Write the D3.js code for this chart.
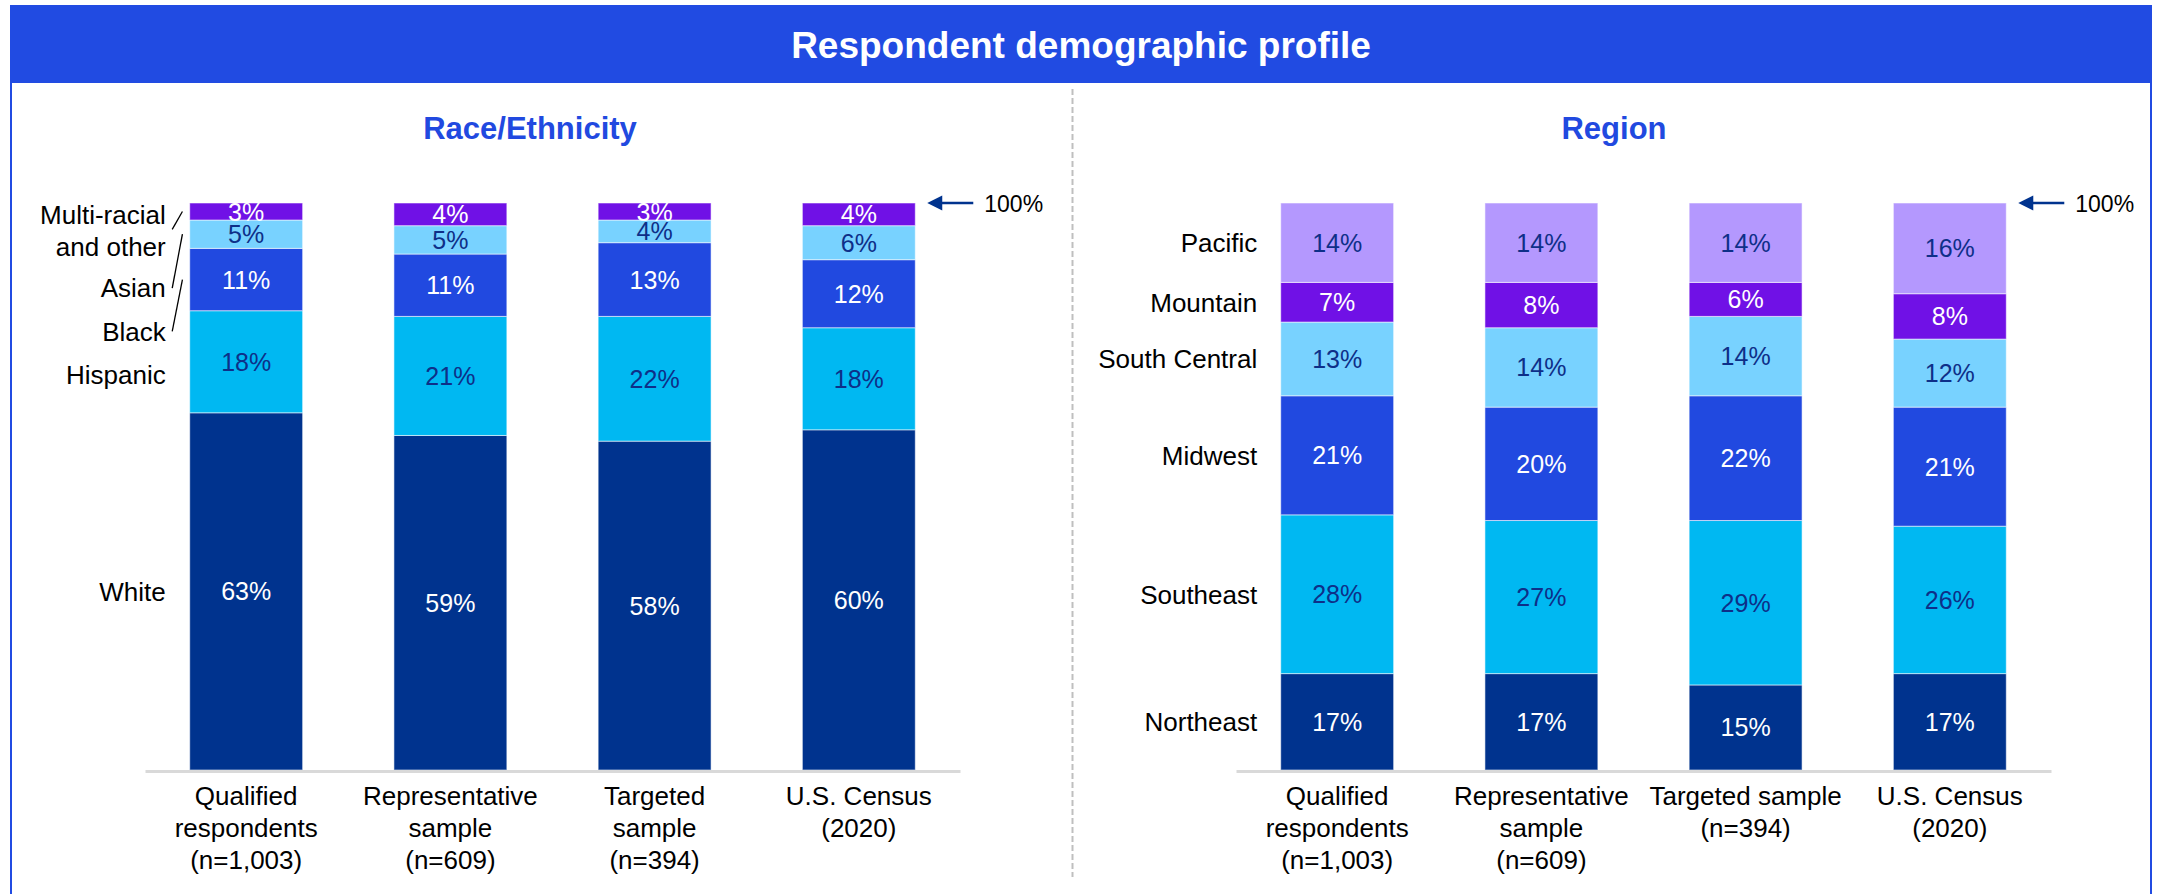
<!DOCTYPE html>
<html>
<head>
<meta charset="utf-8">
<script src="https://cdn.jsdelivr.net/npm/d3@7"></script>
<style>
  html, body { margin: 0; padding: 0; background: #fff; }
  svg { display: block; font-family: "Liberation Sans", Arial, sans-serif; }
</style>
</head>
<body>
<svg id="chart" width="2158" height="894"></svg>
<script>
// ---------------- DATA ----------------
const mainTitle = "Respondent demographic profile";
const raceTitle = "Race/Ethnicity";
const regionTitle = "Region";

const groups = ["Qualified respondents (n=1,003)", "Representative sample (n=609)", "Targeted sample (n=394)", "U.S. Census (2020)"];
const raceGroupLines = [["Qualified", "respondents", "(n=1,003)"], ["Representative", "sample", "(n=609)"], ["Targeted", "sample", "(n=394)"], ["U.S. Census", "(2020)"]];
const regionGroupLines = [["Qualified", "respondents", "(n=1,003)"], ["Representative", "sample", "(n=609)"], ["Targeted sample", "(n=394)"], ["U.S. Census", "(2020)"]];

// Race/Ethnicity (bottom to top)
const raceSeries = ["White", "Hispanic", "Black", "Asian", "Multi-racial and other"];
const raceWhite    = [63, 59, 58, 60];
const raceHispanic = [18, 21, 22, 18];
const raceBlack    = [11, 11, 13, 12];
const raceAsian    = [5, 5, 4, 6];
const raceMulti    = [3, 4, 3, 4];

// Region (bottom to top)
const regionSeries = ["Northeast", "Southeast", "Midwest", "South Central", "Mountain", "Pacific"];
const regNortheast    = [17, 17, 15, 17];
const regSoutheast    = [28, 27, 29, 26];
const regMidwest      = [21, 20, 22, 21];
const regSouthCentral = [13, 14, 14, 12];
const regMountain     = [7, 8, 6, 8];
const regPacific      = [14, 14, 14, 16];

const totalLabel = "100%";

// ---------------- STYLE ----------------
const C = {
  navy: "#00338e", cyan: "#00b8f2", blue: "#2149e0", light: "#78d2ff",
  purple: "#7011e6", lavender: "#b498fe", header: "#214be2",
  darkText: "#0e2f88"
};
const raceColors = [C.navy, C.cyan, C.blue, C.light, C.purple];
const raceText   = ["#fff", C.darkText, "#fff", C.darkText, "#fff"];
const regionColors = [C.navy, C.cyan, C.blue, C.light, C.purple, C.lavender];
const regionText   = ["#fff", C.darkText, "#fff", C.darkText, "#fff", C.darkText];

const svg = d3.select("#chart");
const W = 2158, H = 894;

// Header & frame
svg.append("rect").attr("x", 10).attr("y", 5).attr("width", 2142).attr("height", 78).attr("fill", C.header);
svg.append("line").attr("x1", 11).attr("x2", 11).attr("y1", 83).attr("y2", H).attr("stroke", C.header).attr("stroke-width", 2);
svg.append("line").attr("x1", 2151).attr("x2", 2151).attr("y1", 83).attr("y2", H).attr("stroke", C.header).attr("stroke-width", 2);
svg.append("text").attr("x", 1081).attr("y", 58).attr("text-anchor", "middle")
  .attr("fill", "#fff").attr("font-weight", "bold").attr("font-size", 37).text(mainTitle);

// Separator
svg.append("line").attr("x1", 1072.5).attr("x2", 1072.5).attr("y1", 89).attr("y2", 877)
  .attr("stroke", "#bfbfbf").attr("stroke-width", 2).attr("stroke-dasharray", "6,3");

const y = d3.scaleLinear().domain([0, 100]).range([770, 203]);

function panel(opts) {
  const g = svg.append("g");
  const x = d3.scaleBand().domain(groups).range(opts.range).paddingInner(0.447).paddingOuter(0.219);
  const rows = groups.map((grp, i) => {
    const r = { group: grp };
    opts.series.forEach((s, k) => r[s] = opts.values[k][i]);
    return r;
  });
  const stacked = d3.stack().keys(opts.series)(rows);

  // title
  g.append("text").attr("x", opts.titleX).attr("y", 139).attr("text-anchor", "middle")
    .attr("fill", C.blue).attr("font-weight", "bold").attr("font-size", 31).text(opts.title);

  // bars
  const layers = g.selectAll(".layer").data(stacked).join("g").attr("fill", (d, k) => opts.colors[k]);
  layers.selectAll("rect").data(d => d).join("rect")
    .attr("x", d => x(d.data.group)).attr("width", x.bandwidth())
    .attr("y", d => y(d[1])).attr("height", d => y(d[0]) - y(d[1]))
    .attr("stroke", "#ffffff").attr("stroke-opacity", 0.55).attr("stroke-width", 1);

  // value labels
  stacked.forEach((layer, k) => {
    g.selectAll(null).data(layer).join("text")
      .attr("x", d => x(d.data.group) + x.bandwidth() / 2)
      .attr("y", d => (y(d[0]) + y(d[1])) / 2)
      .attr("dy", "0.36em").attr("text-anchor", "middle")
      .attr("font-size", 25).attr("fill", opts.textColors[k])
      .text(d => (d[1] - d[0]) + "%");
  });

  // axis baseline
  const axis = g.append("g").attr("transform", "translate(0,771)")
    .call(d3.axisBottom(x).tickSize(0).tickFormat(""));
  axis.select(".domain").attr("stroke", "#d9d9d9").attr("stroke-width", 3);

  // axis labels
  groups.forEach((grp, i) => {
    const t = g.append("text").attr("text-anchor", "middle").attr("font-size", 26).attr("fill", "#000");
    opts.groupLines[i].forEach((line, j) => {
      t.append("tspan").attr("x", x(grp) + x.bandwidth() / 2).attr("y", 805 + j * 32).text(line);
    });
  });

  // 100% arrow
  const lastRight = x(groups[groups.length - 1]) + x.bandwidth();
  const ay = y(100);
  g.append("line").attr("x1", lastRight + 58).attr("x2", lastRight + 24).attr("y1", ay).attr("y2", ay)
    .attr("stroke", C.navy).attr("stroke-width", 2.5);
  g.append("path").attr("d", `M${lastRight + 12},${ay} L${lastRight + 27},${ay - 7.5} L${lastRight + 27},${ay + 7.5} Z`).attr("fill", C.navy);
  g.append("text").attr("x", lastRight + 69).attr("y", ay + 8.5).attr("font-size", 23).attr("fill", "#000").text(totalLabel);

  return { x, stacked, g };
}

// ---------------- RACE PANEL ----------------
const race = panel({
  range: [145, 960], title: raceTitle, titleX: 530,
  series: raceSeries, values: [raceWhite, raceHispanic, raceBlack, raceAsian, raceMulti],
  colors: raceColors, textColors: raceText, groupLines: raceGroupLines
});
{
  const g = race.g;
  const first = race.x(groups[0]);
  const lx = first - 24;       // label right edge
  const mid = k => (y(race.stacked[k][0][0]) + y(race.stacked[k][0][1])) / 2;
  const yWhite = mid(0);
  const yHisp = mid(1) + 13;
  const yBlack = yHisp - 43.3;
  const yAsian = yBlack - 43.4;
  const yMulti = yAsian - 57;
  const lab = (txt, yy) => g.append("text").attr("x", lx).attr("y", yy).attr("dy", "0.36em")
    .attr("text-anchor", "end").attr("font-size", 26).attr("fill", "#000").text(txt);
  lab("White", yWhite);
  lab("Hispanic", yHisp);
  lab("Black", yBlack);
  lab("Asian", yAsian);
  lab("Multi-racial", yMulti - 16);
  lab("and other", yMulti + 16);
  const leader = (y1, y2) => g.append("line").attr("x1", first - 17.5).attr("y1", y1)
    .attr("x2", first - 7.3).attr("y2", y2).attr("stroke", "#000").attr("stroke-width", 1.3);
  leader(yBlack, mid(2));
  leader(yAsian, mid(3));
  leader(yMulti - 1.7, mid(4));
}

// ---------------- REGION PANEL ----------------
const region = panel({
  range: [1236, 2051], title: regionTitle, titleX: 1614,
  series: regionSeries, values: [regNortheast, regSoutheast, regMidwest, regSouthCentral, regMountain, regPacific],
  colors: regionColors, textColors: regionText, groupLines: regionGroupLines
});
{
  const g = region.g;
  const first = region.x(groups[0]);
  regionSeries.forEach((s, k) => {
    const d = region.stacked[k][0];
    g.append("text").attr("x", first - 23.5).attr("y", (y(d[0]) + y(d[1])) / 2).attr("dy", "0.36em")
      .attr("text-anchor", "end").attr("font-size", 26).attr("fill", "#000").text(s);
  });
}
</script>
</body>
</html>
